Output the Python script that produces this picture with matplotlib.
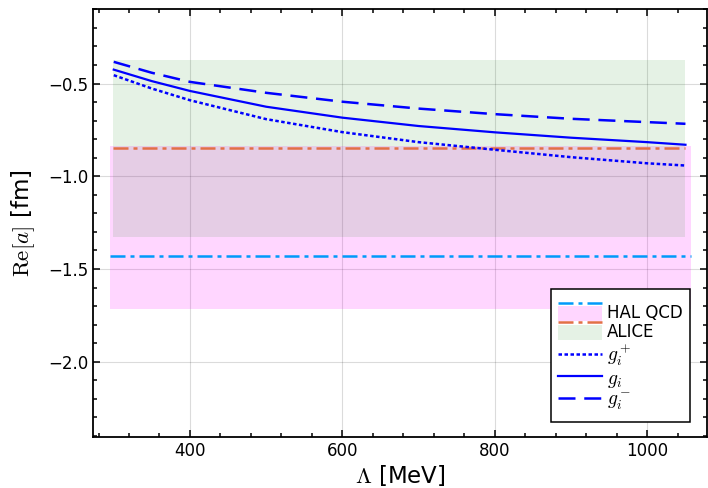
import matplotlib
matplotlib.use("Agg")
import matplotlib.pyplot as plt
from matplotlib.ticker import MultipleLocator
from matplotlib.legend_handler import HandlerBase
from matplotlib.patches import Rectangle
from matplotlib.lines import Line2D

plt.rcParams['mathtext.fontset'] = 'cm'
plt.rcParams['font.family'] = ['DejaVu Sans']

# ---- data ----
lam = [300, 350, 400, 500, 600, 700, 800, 900, 1000, 1050]
g_minus = [-0.383, -0.442, -0.491, -0.550, -0.598, -0.635, -0.665, -0.690, -0.708, -0.717]
g_zero = [-0.425, -0.487, -0.540, -0.625, -0.684, -0.729, -0.763, -0.792, -0.816, -0.830]
g_plus = [-0.455, -0.527, -0.590, -0.692, -0.762, -0.816, -0.857, -0.897, -0.930, -0.942]

hal_x = [295, 1057]
hal_center = -1.43
hal_low = -1.717
hal_high = -0.839

alice_x = [299, 1050]
alice_center = -0.85
alice_low = -1.325
alice_high = -0.371

xticks = [400, 600, 800, 1000]
yticks = [-2.0, -1.5, -1.0, -0.5]

HAL_LINE = '#009AFA'
ALICE_LINE = '#E36F47'
DASHDOT = (6, 2, 1.6, 2)


class BandLineHandler(HandlerBase):
    def __init__(self, line_color, band_color, band_alpha, dashes):
        super().__init__()
        self.lc = line_color
        self.bc = band_color
        self.ba = band_alpha
        self.dashes = dashes

    def create_artists(self, legend, orig_handle, xdescent, ydescent, width,
                       height, fontsize, trans):
        cy = -ydescent + height / 2
        rect = Rectangle((-xdescent, cy - 6.0), width, 11.0,
                         facecolor=self.bc, alpha=self.ba, edgecolor='none',
                         transform=trans)
        ly = cy + 6.8
        line = Line2D([-xdescent, -xdescent + width], [ly, ly], color=self.lc,
                      lw=1.8, dashes=self.dashes, transform=trans)
        return [rect, line]


fig = plt.figure(figsize=(7.08, 4.88), dpi=100)
ax = fig.add_axes([0.1316, 0.1051, 0.8667, 0.8765])

ax.fill_between(hal_x, [hal_low] * 2, [hal_high] * 2, color=(1, 0, 1),
                alpha=0.16, lw=0, zorder=1)
ax.fill_between(alice_x, [alice_low] * 2, [alice_high] * 2, color=(0, 0.5, 0),
                alpha=0.10, lw=0, zorder=1)
ax.plot(hal_x, [hal_center] * 2, color=HAL_LINE, lw=1.8, dashes=DASHDOT, zorder=3)
ax.plot(alice_x, [alice_center] * 2, color=ALICE_LINE, lw=1.8, dashes=DASHDOT, zorder=3)

l_plus, = ax.plot(lam, g_plus, color='blue', lw=1.8, dashes=(1.4, 1.0), zorder=4)
l_zero, = ax.plot(lam, g_zero, color='blue', lw=1.6, zorder=4)
l_minus, = ax.plot(lam, g_minus, color='blue', lw=1.8, dashes=(6.8, 3.5), zorder=4)

ax.set_xlim(273, 1078)
ax.set_ylim(-2.404, -0.098)
ax.set_xticks(xticks)
ax.set_yticks(yticks)
ax.set_yticklabels(['\u22122.0', '\u22121.5', '\u22121.0', '\u22120.5'])
ax.xaxis.set_minor_locator(MultipleLocator(40))
ax.yaxis.set_minor_locator(MultipleLocator(0.1))
ax.tick_params(which='both', direction='in', top=True, right=True,
               labeltop=False, labelright=False, labelsize=12, width=1.1)
ax.tick_params(which='major', length=5)
ax.tick_params(which='minor', length=3)
ax.grid(True, which='major', color='black', alpha=0.14, lw=0.8, zorder=0)
ax.set_axisbelow(True)
for s in ax.spines.values():
    s.set_linewidth(1.3)

ax.set_xlabel(r'$\Lambda$ [MeV]', fontsize=16.5, labelpad=2.5)
ax.set_ylabel(r'$\mathrm{Re}[a]$ [fm]', fontsize=16.5, labelpad=8)

# legend frame box (drawn separately for exact padding)
ax.add_patch(Rectangle((0.746, 0.0344), 0.2266, 0.3109, transform=ax.transAxes,
                       facecolor='white', edgecolor='black', lw=1.1, zorder=4.5))

hal_handle = Rectangle((0, 0), 1, 1)
alice_handle = Line2D([], [])
leg = ax.legend(
    [hal_handle, alice_handle, l_plus, l_zero, l_minus],
    ['HAL QCD', 'ALICE', r'$g_i^+$', r'$g_i$', r'$g_i^-$'],
    handler_map={
        hal_handle: BandLineHandler(HAL_LINE, (1, 0, 1), 0.16, DASHDOT),
        alice_handle: BandLineHandler(ALICE_LINE, (0, 0.5, 0), 0.10, DASHDOT),
    },
    loc='lower right', bbox_to_anchor=(0.9726, 0.0397), borderaxespad=0,
    fontsize=12, frameon=False,
    handlelength=2.6, handleheight=1.3, handletextpad=0.3, labelspacing=0.02,
    borderpad=0.45)
leg.set_zorder(5)
for t in leg.get_texts()[2:]:
    t.set_fontsize(14)

fig.savefig('out.png', dpi=100)
